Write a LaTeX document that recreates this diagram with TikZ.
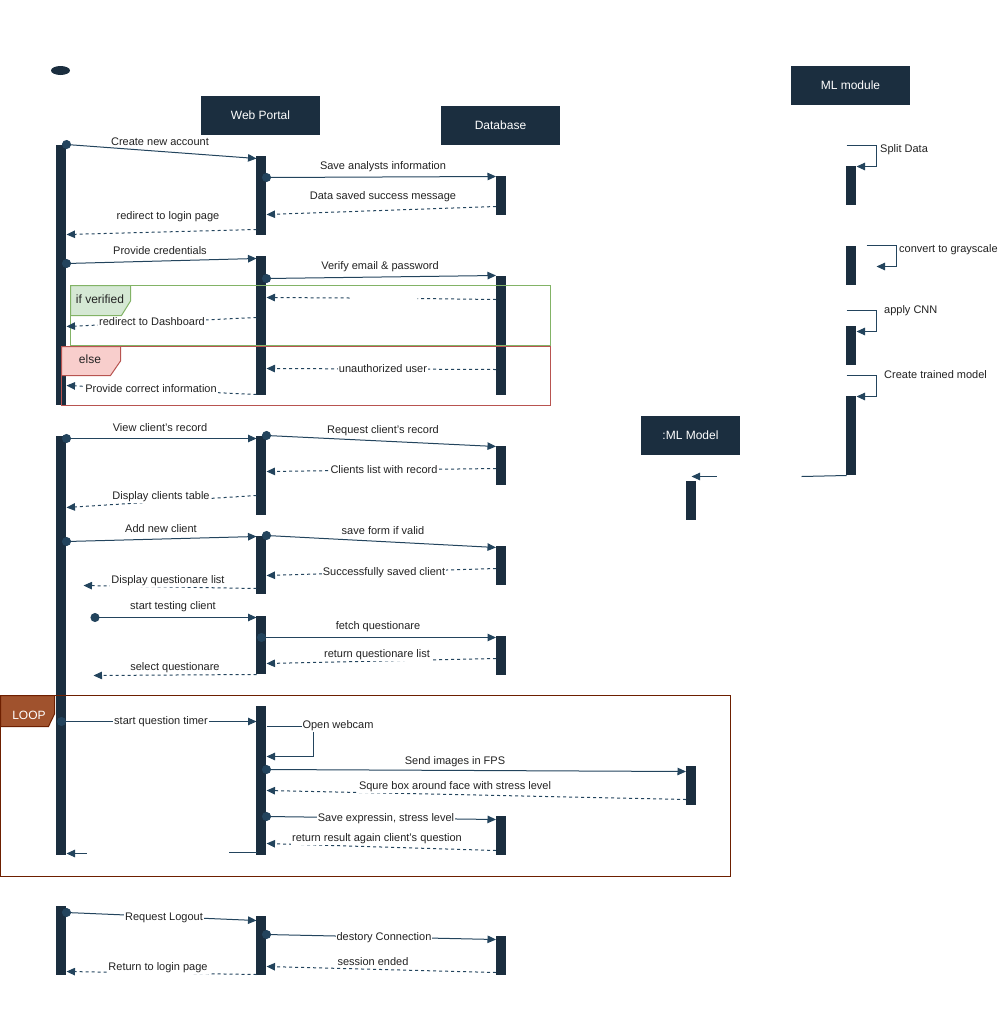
\documentclass[tikz,border=0pt]{standalone}
\usepackage{fontspec}
\setmainfont{Liberation Sans}
\usetikzlibrary{arrows.meta,shapes.geometric}

\definecolor{navy}{HTML}{1B2E3F}
\definecolor{wire}{HTML}{23445D}
\definecolor{txt}{HTML}{222222}
\definecolor{okline}{HTML}{82B366}
\definecolor{okfill}{HTML}{D5E8D4}
\definecolor{noline}{HTML}{B85450}
\definecolor{nofill}{HTML}{F8CECC}
\definecolor{loopline}{HTML}{6D1F00}
\definecolor{loopfill}{HTML}{A0522D}

\tikzset{
  bar/.style={fill=navy, draw=none, minimum width=10, inner sep=0, outer sep=0},
  head/.style={fill=navy, text=white, minimum width=119, minimum height=39,
    inner sep=0, font=\fontsize{12}{14}\selectfont},
  % thin lines sit on pixel centres so they stay crisp
  crisp/.style={transform canvas={xshift=0.5pt,yshift=-0.5pt}},
  call/.style={crisp, wire, line width=1pt, -{Triangle[width=7.5pt,length=8.5pt]}},
  send/.style={call, {Circle[length=9pt]}-{Triangle[width=7.5pt,length=8.5pt]}, shorten <=-4.5pt},
  reply/.style={call, dash pattern=on 3pt off 3pt},
  plainline/.style={crisp, wire, line width=1pt},
  frame/.style={line width=1pt},
  lbl/.style={fill=white, text=txt, inner sep=1pt, font=\fontsize{11}{13}\selectfont},
  fraglbl/.style={text=txt, inner sep=0, font=\fontsize{12}{14}\selectfont}
}

% activation bar: name, x, top, bottom
\newcommand\actbar[4]{\node[bar, minimum height={#4-#3}] (#1) at (#2,{(#3+#4)/2}) {};}

\begin{document}
\begin{tikzpicture}[x=1pt,y=-1pt]
\useasboundingbox (0,0) rectangle (998,1026);

% initial state and lifeline heads
\node[ellipse, fill=navy, minimum width=19, minimum height=9, inner sep=0] (init) at (60.5,70.5) {};
\node[head] (web) at (260.5,115.5) {Web Portal};
\node[head] (db) at (500.5,125.5) {Database};
\node[head] (mlm) at (850.5,85.5) {ML module};
\node[head, minimum width=99] (mlk) at (690.5,435.5) {:ML Model};

% user activations
\actbar{u1}{61}{145}{405}
\actbar{u2}{61}{436}{855}
\actbar{u3}{61}{906}{975}
% web portal activations
\actbar{w1}{261}{156}{235}
\actbar{w2}{261}{256}{395}
\actbar{w3}{261}{436}{515}
\actbar{w4}{261}{536}{594}
\actbar{w5}{261}{616}{674}
\actbar{w6}{261}{706}{855}
\actbar{w7}{261}{916}{975}
% database activations
\actbar{d1}{500.5}{176}{215}
\actbar{d2}{500.5}{276}{395}
\actbar{d3}{500.5}{446}{485}
\actbar{d4}{500.5}{546}{585}
\actbar{d5}{500.5}{636}{675}
\actbar{d6}{500.5}{816}{855}
\actbar{d7}{500.5}{936}{975}
% ML module activations
\actbar{m1}{851}{166}{205}
\actbar{m2}{851}{246}{285}
\actbar{m3}{851}{326}{365}
\actbar{m4}{851}{396}{475}
% ML model activations
\actbar{k1}{690.5}{481}{520}
\actbar{k2}{690.5}{766}{805}

% combined fragments
\draw[frame, okline] (70.5,285.5) rectangle (550.5,345.5);
\draw[frame, okline, fill=okfill] (70.5,285.5) -- (130.5,285.5) -- (130.5,301) -- (121.5,315.5) -- (70.5,315.5) -- cycle;
\node[fraglbl] (ifv) at (100,299) {if verified};
\draw[frame, noline] (61.5,346.5) rectangle (550.5,405.5);
\draw[frame, noline, fill=nofill] (61.5,346.5) -- (120.5,346.5) -- (120.5,361) -- (110.5,375.5) -- (61.5,375.5) -- cycle;
\node[fraglbl] (els) at (90,359) {else};
\draw[frame, loopline] (0.5,695.5) rectangle (730.5,876.5);
\draw[frame, loopline, fill=loopfill] (0.5,695.5) -- (54.5,695.5) -- (54.5,714) -- (48.5,726.5) -- (0.5,726.5) -- cycle;
\node[fraglbl, text=white] (lp) at (29,715) {LOOP};

% account creation
\draw[send] (u1.east |- 0,144) -- (w1.west |- 0,158);
\draw[send] (w1.east |- 0,177) -- (d1.west |- 0,176);
\draw[reply] (d1.west |- 0,206) -- (w1.east |- 0,214);
\draw[reply] (w1.west |- 0,229) -- (u1.east |- 0,234);
\node[lbl] (t1) at (160,142) {Create new account};
\node[lbl] (t2) at (383,167) {Save analysts information};
\node[lbl] (t3) at (383,197) {Data saved success message};
\node[lbl] (t4) at (168,217) {redirect to login page};

% login
\draw[send] (u1.east |- 0,263) -- (w2.west |- 0,258);
\draw[send] (w2.east |- 0,278) -- (d2.west |- 0,275);
\coordinate (gapR) at (417,298);
\coordinate (gapL) at (349,297.5);
\draw[plainline, dash pattern=on 3pt off 3pt] (d2.west |- 0,299) -- (gapR);
\draw[reply] (gapL) -- (w2.east |- 0,297);
\draw[reply] (w2.west |- 0,317) -- (u1.east |- 0,326);
\draw[reply] (d2.west |- 0,369) -- (w2.east |- 0,368);
\draw[reply] (w2.west |- 0,394) -- (u1.east |- 0,385);
\node[lbl] (t5) at (160,251) {Provide credentials};
\node[lbl] (t6) at (380,267) {Verify email \& password};
\node[lbl] (t7) at (152,322) {redirect to Dashboard};
\node[lbl] (t8) at (383,369) {unauthorized user};
\node[lbl] (t9) at (151,389) {Provide correct information};

% client records
\draw[send] (u2.east |- 0,438) -- (w3.west |- 0,438);
\draw[send] (w3.east |- 0,435) -- (d3.west |- 0,446);
\draw[reply] (d3.west |- 0,468) -- (w3.east |- 0,471);
\draw[reply] (w3.west |- 0,495) -- (u2.east |- 0,507);
\node[lbl] (t10) at (160,428) {View client's record};
\node[lbl] (t11) at (383,431) {Request client's record};
\node[lbl] (t12) at (384,470) {Clients list with record};
\node[lbl] (t13) at (161,497) {Display clients table};

% new client
\coordinate (dql) at (83,585);
\draw[send] (u2.east |- 0,541) -- (w4.west |- 0,536);
\draw[send] (w4.east |- 0,535) -- (d4.west |- 0,547);
\draw[reply] (d4.west |- 0,568) -- (w4.east |- 0,575);
\draw[reply] (w4.west |- 0,588) -- (dql);
\node[lbl] (t14) at (161,529) {Add new client};
\node[lbl] (t15) at (383,531) {save form if valid};
\node[lbl] (t16) at (384,573) {Successfully saved client};
\node[lbl] (t17) at (168,581) {Display questionare list};

% testing
\coordinate (stc) at (90,617);
\coordinate (selq) at (93,675);
\draw[send, shorten <=0pt] (stc) -- (w5.west |- 0,617);
\draw[send] (w5.center |- 0,637) -- (d5.west |- 0,637);
\draw[reply] (d5.west |- 0,658) -- (w5.east |- 0,663);
\draw[reply] (w5.west |- 0,674) -- (selq);
\node[lbl] (t18) at (173,607) {start testing client};
\node[lbl] (t19) at (378,627) {fetch questionare};
\node[lbl] (t20) at (377,655) {return questionare list};
\node[lbl] (t21) at (175,668) {select questionare};

% question loop
\draw[send] (u2.center |- 0,721) -- (w6.west |- 0,721);
\draw[call] (w6.east |- 0,726) -- (313,726) -- (313,756) -- (w6.east |- 0,756);
\draw[send] (w6.east |- 0,769) -- (k2.west |- 0,771);
\draw[reply] (k2.west |- 0,799) -- (w6.east |- 0,790);
\draw[send] (w6.east |- 0,816) -- (d6.west |- 0,819);
\draw[reply] (d6.west |- 0,850) -- (w6.east |- 0,843);
\coordinate (rtR) at (228,852);
\coordinate (rtL) at (86,853);
\draw[plainline] (w6.west |- 0,852) -- (rtR);
\draw[call] (rtL) -- (u2.east |- 0,853);
\node[lbl] (t22) at (161,722) {start question timer};
\node[lbl] (t23) at (338,726) {Open webcam};
\node[lbl] (t24) at (455,762) {Send images in FPS};
\node[lbl] (t25) at (455,787) {Squre box around face with stress level};
\node[lbl] (t26) at (386,819) {Save expressin, stress level};
\node[lbl] (t27) at (377,839) {return result again client's question};

% logout
\draw[send] (u3.east |- 0,912) -- (w7.west |- 0,920);
\draw[send] (w7.east |- 0,934) -- (d7.west |- 0,939);
\draw[reply] (d7.west |- 0,972) -- (w7.east |- 0,966);
\draw[reply] (w7.west |- 0,974) -- (u3.east |- 0,971);
\node[lbl] (t28) at (164,918) {Request Logout};
\node[lbl] (t29) at (384,938) {destory Connection};
\node[lbl] (t30) at (373,962) {session ended};
\node[lbl] (t31) at (158,968) {Return to login page};

% ML module training steps
\coordinate (gs) at (866,245);
\draw[call] (m1.west |- 0,145) -- (876,145) -- (876,166) -- (m1.east |- 0,166);
\draw[call] (gs) -- (896,245) -- (896,266) -- (876,266);
\draw[call] (m3.west |- 0,310) -- (876,310) -- (876,331) -- (m3.east |- 0,331);
\draw[call] (m4.west |- 0,375) -- (876,375) -- (876,396) -- (m4.east |- 0,396);
\node[lbl, anchor=west] (s1) at (879,150) {Split Data};
\node[lbl, anchor=west] (s2) at (898,250) {convert to grayscale};
\node[lbl, anchor=west] (s3) at (883,311) {apply CNN};
\node[lbl, anchor=west] (s4) at (883,375) {Create trained model};

% handover of the trained model
\coordinate (hoR) at (801,476);
\coordinate (hoL) at (716,476);
\draw[plainline] (m4.south west) -- (hoR);
\draw[call] (hoL) -- (691,476);
\end{tikzpicture}
\end{document}
